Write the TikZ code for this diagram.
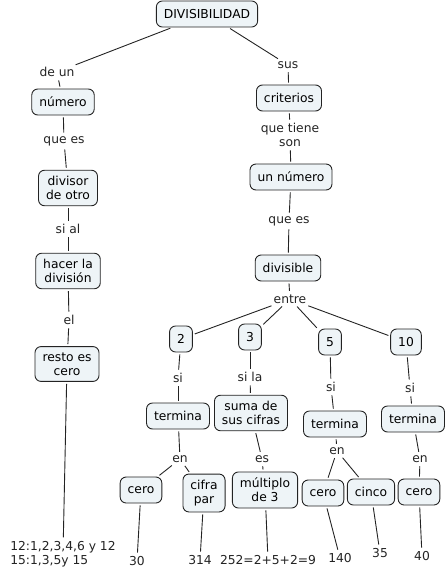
\documentclass[tikz,border=0pt]{standalone}
\usepackage{fontspec}
\setmainfont{DejaVu Sans}
\usetikzlibrary{positioning}
\definecolor{boxfill}{RGB}{238,244,247}
\definecolor{inkgray}{RGB}{35,35,35}

\begin{document}
\begin{tikzpicture}[x=1pt, y=-1pt, font=\fontsize{12.3}{14}\selectfont,
  concept/.style={draw=inkgray, fill=boxfill, rounded corners=6pt, align=center,
    inner xsep=7.5pt, inner ysep=6pt, minimum height=26pt, line width=0.9pt},
  linkword/.style={align=center, inner sep=1.5pt, text=inkgray},
  link/.style={draw=inkgray, line width=0.9pt, shorten <=2pt, shorten >=2pt}]
  \useasboundingbox (0,0) rectangle (446,578);

  \node[concept] (div) at (207,14) {DIVISIBILIDAD};
  % left branch
  \node[linkword] (deun) at (57,72) {de un};
  \node[concept] (num) at (63,102) {número};
  \node[linkword] (quees1) at (64,141) {que es};
  \node[concept] (divisor) at (68,188) {divisor\\de otro};
  \node[linkword] (sial) at (68,229) {si al};
  \node[concept] (hacer) at (68,271) {hacer la\\división};
  \node[linkword] (el) at (69,320) {el};
  \node[concept] (resto) at (67,364) {resto es\\cero};
  \node[linkword, align=left] (ej1) at (63,554) {12:1,2,3,4,6 y 12\\15:1,3,5y 15};
  % right branch
  \node[linkword] (sus) at (288,65) {sus};
  \node[concept] (crit) at (289,98) {criterios};
  \node[linkword] (tiene) at (290,135) {que tiene\\son};
  \node[concept] (unnum) at (291,177) {un número};
  \node[linkword] (quees2) at (289,221) {que es};
  \node[concept] (divis) at (288,268) {divisible};
  \node[linkword] (entre) at (290,299) {entre};
  \node[concept] (d2) at (181,339) {2};
  \node[concept] (d3) at (250,337) {3};
  \node[concept] (d5) at (330,342) {5};
  \node[concept] (d10) at (406,342) {10};
  \node[linkword] (si2) at (178,378) {si};
  \node[linkword] (si3) at (250,377) {si la};
  \node[linkword] (si5) at (331,387) {si};
  \node[linkword] (si10) at (410,388) {si};
  \node[concept] (ter2) at (178,416) {termina};
  \node[concept] (suma) at (251,413) {suma de\\sus cifras};
  \node[concept] (ter5) at (335,424) {termina};
  \node[concept] (ter10) at (413,419) {termina};
  \node[linkword] (en2) at (180,459) {en};
  \node[linkword] (es3) at (262,459) {es};
  \node[linkword] (en5) at (337,451) {en};
  \node[linkword] (en10) at (420,459) {en};
  \node[concept] (cero2) at (141,490) {cero};
  \node[concept] (par) at (204,493) {cifra\\par};
  \node[concept] (mult) at (265,490) {múltiplo\\de 3};
  \node[concept] (cero5) at (323,493) {cero};
  \node[concept] (cinco) at (371,492) {cinco};
  \node[concept] (cero10) at (419,492) {cero};
  % examples
  \node[linkword] (ej30) at (137,561) {30};
  \node[linkword] (ej314) at (200,560) {314};
  \node[linkword] (ej252) at (268,560) {252=2+5+2=9};
  \node[linkword] (ej140) at (340,558) {140};
  \node[linkword] (ej35) at (380,553) {35};
  \node[linkword] (ej40) at (422,556) {40};

  \foreach \a/\b in {div/deun, deun/num, num/quees1, quees1/divisor, divisor/sial,
      sial/hacer, hacer/el, el/resto, resto/ej1,
      div/sus, sus/crit, crit/tiene, tiene/unnum, unnum/quees2, quees2/divis,
      divis/entre, entre/d2, entre/d3, entre/d5, entre/d10,
      d2/si2, si2/ter2, ter2/en2, en2/cero2, en2/par, cero2/ej30, par/ej314,
      d3/si3, si3/suma, suma/es3, es3/mult, mult/ej252,
      d5/si5, si5/ter5, ter5/en5, en5/cero5, en5/cinco, cero5/ej140, cinco/ej35,
      d10/si10, si10/ter10, ter10/en10, en10/cero10, cero10/ej40}
    \draw[link] (\a) -- (\b);
\end{tikzpicture}
\end{document}
